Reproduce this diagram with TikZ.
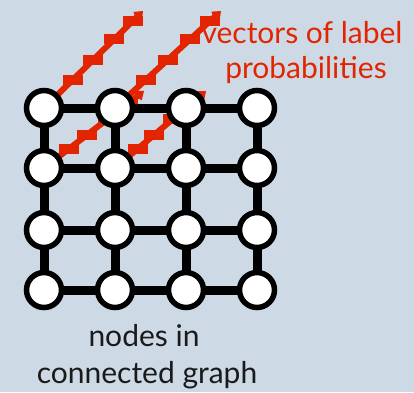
\documentclass[tikz,border=0pt]{standalone}
\usepackage{fontspec}
\setmainfont{Lato}
\usetikzlibrary{decorations.markings,arrows.meta}
\definecolor{bgblue}{HTML}{CDD9E5}
\definecolor{vecred}{HTML}{E32400}
\definecolor{txtblack}{HTML}{1A1A1A}
\pgfdeclarelayer{bglayer}
\pgfdeclarelayer{edgelayer}
\pgfsetlayers{bglayer,edgelayer,main}
\tikzset{
  gnode/.style={circle, draw=black, fill=white, line width=5.5pt, minimum size=35pt, inner sep=0pt},
  gedge/.style={draw=black, line width=9pt},
  vmark/.style={rectangle, fill=vecred, minimum width=20pt, minimum height=10pt, inner sep=0pt},
  vecA/.style={draw=vecred, line width=6pt, -{Kite[length=10pt,width=12pt]},
    postaction={decorate},
    decoration={markings,
      mark=at position 0.29 with {\node[vmark]{};},
      mark=at position 0.5 with {\node[vmark]{};},
      mark=at position 0.71 with {\node[vmark]{};},
      mark=at position 0.9 with {\node[vmark]{};}}},
  vecB/.style={draw=vecred, line width=6pt, -{Kite[length=10pt,width=12pt]},
    postaction={decorate},
    decoration={markings,
      mark=at position 0.25 with {\node[vmark]{};},
      mark=at position 0.43 with {\node[vmark]{};},
      mark=at position 0.64 with {\node[vmark]{};},
      mark=at position 0.84 with {\node[vmark]{};}}},
  redtxt/.style={text=vecred, font=\fontsize{30}{36}\selectfont, inner sep=0pt, anchor=base},
  blktxt/.style={text=txtblack, font=\fontsize{30}{36}\selectfont, inner sep=0pt, anchor=base}
}
\begin{document}
\begin{tikzpicture}[x=1pt,y=-1pt]
\begin{pgfonlayer}{bglayer}
\fill[bgblue] (0,0) rectangle (414,392);
\end{pgfonlayer}
\useasboundingbox (0,0) rectangle (414,392);
% grid nodes
\foreach \r/\y in {1/108,2/168,3/230,4/290}{
  \foreach \c/\x in {1/44,2/115,3/186,4/257}{
    \node[gnode] (n\r\c) at (\x,\y) {};
  }
}
\coordinate (t1) at (143,11);
\coordinate (t2) at (221,11);
\coordinate (t3) at (144,91);
\coordinate (t4) at (206,91);
\begin{pgfonlayer}{edgelayer}
  \draw[vecA] (n11.center) -- (t1);
  \draw[vecA] (n12.center) -- (t2);
  \draw[vecB] (n21.center) -- (t3);
  \draw[vecB] (n22.center) -- (t4);
  \foreach \r in {1,2,3,4}{
    \draw[gedge] (n\r1.center) -- (n\r2.center) -- (n\r3.center) -- (n\r4.center);
    \draw[gedge] (n1\r.center) -- (n2\r.center) -- (n3\r.center) -- (n4\r.center);
  }
\end{pgfonlayer}
% labels
\node[redtxt] (lab1) at (302,43) {vectors of label};
\node[redtxt] (lab2) at (306,78) {probabilities};
\node[blktxt] (cap1) at (144,346) {nodes in};
\node[blktxt] (cap2) at (147,383) {connected graph};
\end{tikzpicture}
\end{document}
